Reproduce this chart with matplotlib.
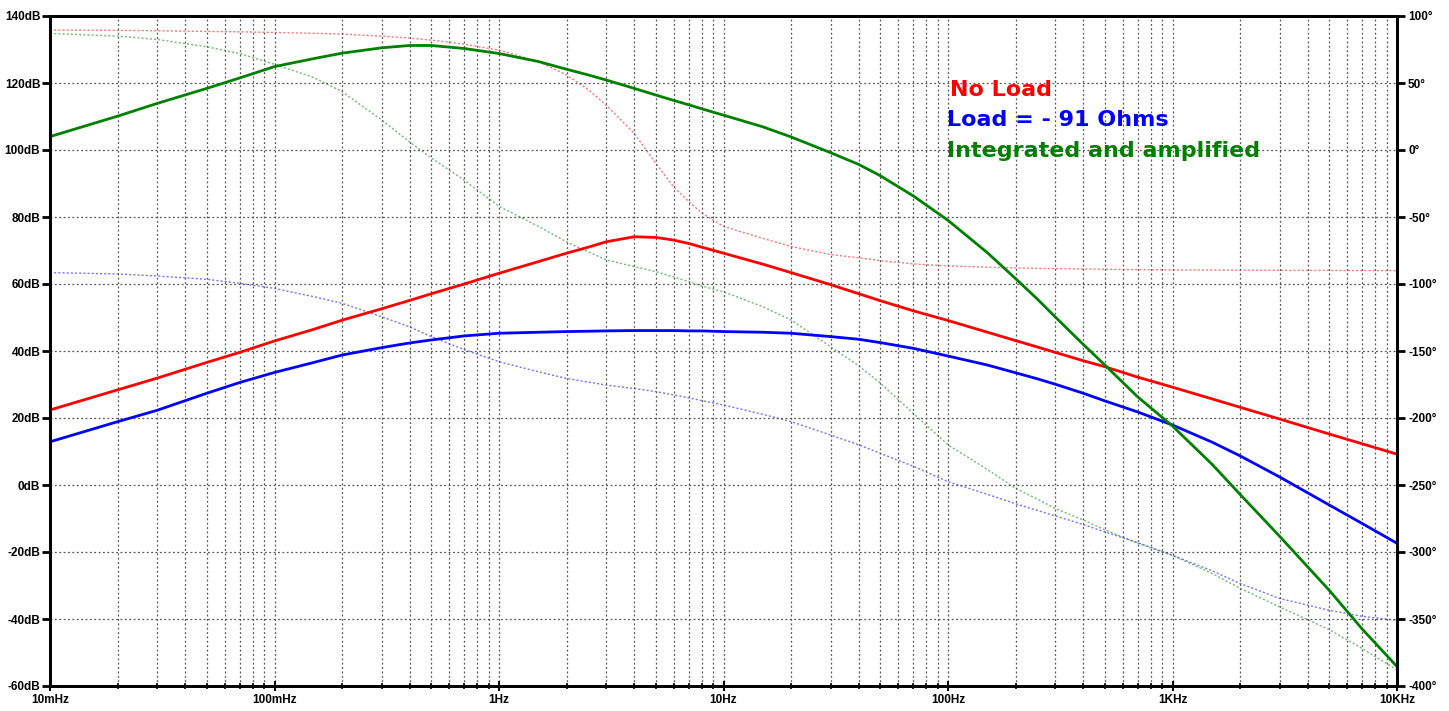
import matplotlib
matplotlib.use("Agg")
import matplotlib.pyplot as plt
import numpy as np
from matplotlib.ticker import LogLocator, NullFormatter

plt.rcParams['font.family'] = ['Liberation Sans', 'DejaVu Sans']

freq = [0.01, 0.02, 0.03, 0.05, 0.07, 0.1, 0.15, 0.2, 0.3, 0.4, 0.5, 0.7, 1, 1.5, 2, 2.5, 3, 4, 5, 6,
        7, 8, 10, 15, 20, 30, 40, 50, 70, 100, 150, 200, 250, 300, 400, 500, 700, 1000, 1500, 2000,
        3000, 5000, 7000, 10000]

# magnitudes (dB)
noload_db = [22.4, 28.4, 31.9, 36.6, 39.6, 43.0, 46.5, 49.2, 52.6, 55.1, 57.1, 60.0, 63.2, 66.7, 69.2,
             71.0, 72.6, 74.1, 73.9, 73.1, 72.1, 71.0, 69.2, 65.9, 63.4, 59.8, 57.1, 55.0, 52.0, 49.1,
             45.6, 43.1, 41.2, 39.6, 37.1, 35.3, 32.2, 29.2, 25.7, 23.2, 19.7, 15.2, 12.3, 9.2]
load_db = [12.9, 18.9, 22.3, 27.4, 30.6, 33.6, 36.6, 38.8, 41.0, 42.4, 43.3, 44.5, 45.3, 45.6, 45.8,
           45.9, 46.0, 46.1, 46.1, 46.1, 46.0, 46.0, 45.8, 45.6, 45.3, 44.3, 43.5, 42.5, 40.8, 38.5,
           35.8, 33.5, 31.7, 30.1, 27.4, 25.1, 21.8, 17.9, 12.8, 8.7, 2.4, -6.0, -11.5, -17.4]
integ_db = [104.0, 110.1, 113.9, 118.4, 121.5, 124.9, 127.3, 128.9, 130.5, 131.2, 131.2, 130.3, 128.8,
            126.4, 124.1, 122.4, 120.9, 118.4, 116.4, 114.8, 113.5, 112.3, 110.4, 106.9, 103.9, 99.2,
            95.7, 92.3, 86.3, 79.0, 69.3, 61.6, 55.5, 50.2, 42.0, 35.8, 26.3, 17.6, 6.2, -2.8, -15.3,
            -31.5, -43.0, -54.2]

# phases (degrees)
noload_ph = [89.5, 89.3, 89.0, 88.5, 88.2, 87.7, 87.1, 86.5, 85.0, 83.5, 82.0, 79.0, 74.5, 66.0, 56.0,
             45.0, 33.5, 12.5, -10.0, -27.5, -38.5, -47.0, -57.0, -66.0, -72.0, -78.0, -80.5, -82.5,
             -85.0, -86.5, -87.5, -88.0, -88.3, -88.5, -88.8, -89.0, -89.3, -89.5, -89.6, -89.7,
             -89.8, -89.9, -90.0, -90.0]
load_ph = [-91.5, -92.5, -94.0, -96.5, -99.5, -103.3, -109.5, -114.4, -124.4, -132.0, -139.3, -149.0,
           -158.0, -165.5, -170.5, -173.2, -175.4, -178.0, -180.3, -182.8, -185.0, -187.0, -190.3,
           -197.3, -202.7, -212.7, -220.0, -226.4, -236.0, -247.5, -257.0, -264.0, -269.0, -273.0,
           -279.5, -285.0, -293.0, -302.5, -314.0, -323.5, -334.7, -343.5, -348.0, -351.0]
integ_ph = [87.0, 85.0, 82.5, 77.0, 72.0, 64.0, 54.0, 43.5, 22.5, 6.0, -6.0, -22.5, -42.0, -57.0,
            -68.6, -76.0, -82.0, -87.0, -90.8, -94.8, -98.2, -101.5, -105.8, -117.0, -126.9, -146.8,
            -161.0, -174.0, -196.5, -220.0, -238.5, -252.5, -260.5, -267.5, -276.0, -283.5, -293.5,
            -302.5, -316.0, -327.0, -341.0, -358.0, -372.0, -388.0]

labels = ['No Load', 'Load = - 91 Ohms', 'Integrated and amplified']
colors = ['#ff0000', '#0000ff', '#008000']

fig = plt.figure(figsize=(14.49, 7.11), dpi=100)
ax = fig.add_axes([50 / 1449, 25 / 711, 1347 / 1449, 670 / 711])
ax2 = ax.twinx()
ax.set_zorder(2)
ax.patch.set_visible(False)
ax2.set_zorder(1)

dots = (0, (1.5, 1.5))
for mag, ph, c in zip([noload_db, load_db, integ_db], [noload_ph, load_ph, integ_ph], colors):
    ax.plot(freq, mag, color=c, lw=2.0)
    ax2.plot(freq, ph, color=c, lw=1.0, ls=dots, alpha=0.55)

ax.set_xscale('log')
ax.set_xlim(0.01, 10000)
ax.set_ylim(-60, 140)
ax2.set_ylim(-400, 100)

xt = [0.01, 0.1, 1, 10, 100, 1000, 10000]
xl = ['10mHz', '100mHz', '1Hz', '10Hz', '100Hz', '1KHz', '10KHz']
ax.set_xticks(xt)
ax.set_xticklabels(xl)
ax.xaxis.set_minor_locator(LogLocator(base=10, subs=np.arange(2, 10), numticks=20))
ax.xaxis.set_minor_formatter(NullFormatter())

yt = np.arange(-60, 141, 20)
ax.set_yticks(yt)
ax.set_yticklabels([f'{v}dB' for v in yt])
pt = np.arange(-400, 101, 50)
ax2.set_yticks(pt)
ax2.set_yticklabels([f'{v}°' for v in pt])

ax.grid(True, which='both', axis='x', color='#555555', ls=(0, (1.5, 2)), lw=0.9)
ax.grid(True, which='major', axis='y', color='#555555', ls=(0, (1.5, 2)), lw=0.9)

for a in (ax, ax2):
    for s in a.spines.values():
        s.set_linewidth(2)
        s.set_color('black')
ax.tick_params(axis='y', length=6, width=2, labelsize=8.5, pad=1)
ax2.tick_params(axis='y', length=6, width=2, labelsize=8.5, pad=2)
ax.tick_params(axis='x', which='major', direction='inout', length=7, width=1.5, labelsize=8.5, pad=2)
ax.tick_params(axis='x', which='minor', direction='inout', length=5, width=1.2)
for t in ax.get_xticklabels() + ax.get_yticklabels() + ax2.get_yticklabels():
    t.set_fontweight('bold')

note_font = dict(family='DejaVu Sans', fontsize=16, fontweight='bold', va='center', ha='left')
ax.text(0.668, 0.890, labels[0], transform=ax.transAxes, color=colors[0], **note_font)
ax.text(0.666, 0.845, labels[1], transform=ax.transAxes, color=colors[1], **note_font)
ax.text(0.666, 0.799, labels[2], transform=ax.transAxes, color=colors[2], **note_font)

fig.savefig('out.png', dpi=100)
